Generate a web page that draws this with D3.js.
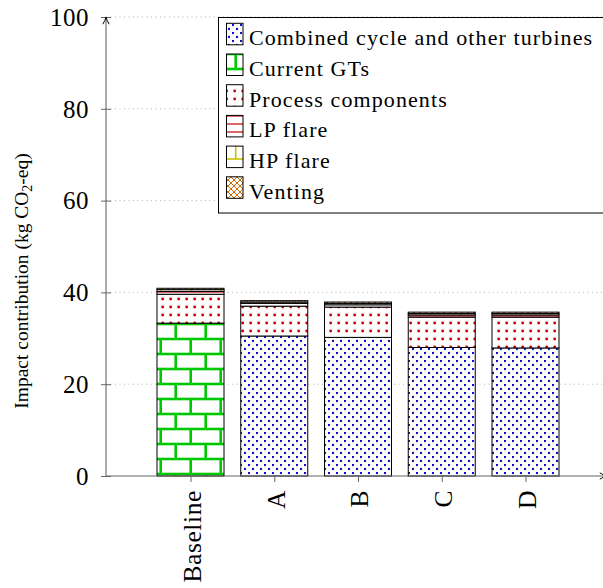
<!DOCTYPE html>
<html><head><meta charset="utf-8">
<script src="https://cdn.jsdelivr.net/npm/d3@7"></script>
<style>body{margin:0;background:#fff} svg{display:block} text{font-family:"Liberation Serif","DejaVu Serif",serif}</style>
</head><body>
<svg id="chart" width="603" height="588"></svg>
<script>
// Emission contributions per scenario (kg CO2-eq)
const categories = ["Baseline", "A", "B", "C", "D"];
const seriesNames = ["Combined cycle and other turbines", "Current GTs", "Process components", "LP flare", "HP flare", "Venting"];
const combinedCycle     = [0.0, 30.5, 30.2, 28.0, 27.9];
const currentGTs        = [33.3, 0.0, 0.0, 0.0, 0.0];
const processComponents = [6.3, 6.5, 6.6, 6.6, 6.7];
const lpFlare           = [0.6, 0.6, 0.5, 0.5, 0.5];
const hpFlare           = [0.4, 0.3, 0.3, 0.3, 0.3];
const venting           = [0.3, 0.3, 0.3, 0.3, 0.3];
const yTicks = [0, 20, 40, 60, 80, 100];
const yLabel = "Impact contribution (kg CO";

const seriesValues = [combinedCycle, currentGTs, processComponents, lpFlare, hpFlare, venting];
const patternIds = ["pCC", "pGT", "pPC", "pLP", "pHP", "pVent"];

const svg = d3.select("#chart");

// ---------- fill patterns ----------
const defs = svg.append("defs");
const blue = "#0000cc", green = "#00c800", red = "#cc0000", yellow = "#c8c000", orange = "#d06a00";

// crosshatch dots (blue)
let p = defs.append("pattern").attr("id", "pCC").attr("patternUnits", "userSpaceOnUse")
  .attr("width", 8).attr("height", 8);
p.append("rect").attr("width", 8).attr("height", 8).attr("fill", "#fff");
[[1, 1], [5, 5]].forEach(([cx, cy]) => p.append("circle").attr("cx", cx).attr("cy", cy).attr("r", 1.15).attr("fill", blue));

// bricks (green / yellow)
function bricks(id, color, w) {
  const b = defs.append("pattern").attr("id", id).attr("patternUnits", "userSpaceOnUse")
    .attr("width", 30).attr("height", 30);
  b.append("rect").attr("width", 30).attr("height", 30).attr("fill", "#fff");
  const g = b.append("g").attr("stroke", color).attr("stroke-width", w).attr("fill", "none");
  g.append("line").attr("x1", -1).attr("x2", 31).attr("y1", 9).attr("y2", 9);
  g.append("line").attr("x1", -1).attr("x2", 31).attr("y1", 24).attr("y2", 24);
  g.append("line").attr("x1", 10.7).attr("x2", 10.7).attr("y1", 9).attr("y2", 24);
  g.append("line").attr("x1", 25.7).attr("x2", 25.7).attr("y1", 24).attr("y2", 31);
  g.append("line").attr("x1", 25.7).attr("x2", 25.7).attr("y1", -1).attr("y2", 9);
}
bricks("pGT", green, 2.6);
bricks("pHP", yellow, 1.6);

// dots (red)
p = defs.append("pattern").attr("id", "pPC").attr("patternUnits", "userSpaceOnUse")
  .attr("width", 8).attr("height", 8);
p.append("rect").attr("width", 8).attr("height", 8).attr("fill", "#fff");
p.append("circle").attr("cx", 2.7).attr("cy", 3).attr("r", 1.45).attr("fill", red);

// horizontal lines (red)
p = defs.append("pattern").attr("id", "pLP").attr("patternUnits", "userSpaceOnUse")
  .attr("width", 8).attr("height", 8);
p.append("rect").attr("width", 8).attr("height", 8).attr("fill", "#fff");
p.append("line").attr("x1", 0).attr("x2", 8).attr("y1", 4).attr("y2", 4).attr("stroke", red).attr("stroke-width", 1.2);

// crosshatch (orange)
p = defs.append("pattern").attr("id", "pVent").attr("patternUnits", "userSpaceOnUse")
  .attr("width", 6).attr("height", 6);
p.append("rect").attr("width", 6).attr("height", 6).attr("fill", "#fff");
p.append("path").attr("d", "M-1,-1L7,7M-1,7L7,-1").attr("stroke", orange).attr("stroke-width", 1);

// ---------- scales ----------
const x = d3.scalePoint().domain(categories).range([190.5, 525.5]);
const barW = x.step() * 0.8;
const y = d3.scaleLinear().domain([0, 100]).range([476, 17]);
const axisX = 106, plotRight = 640;

// grid
svg.append("g").selectAll("line").data(yTicks.filter(t => t > 0)).join("line")
  .attr("x1", axisX).attr("x2", plotRight)
  .attr("y1", d => y(d)).attr("y2", d => y(d))
  .attr("stroke", "#a8a8a8").attr("stroke-width", 0.9).attr("stroke-dasharray", "1,3.5");

// ---------- stacked bars ----------
const rows = categories.map((c, i) => {
  const o = { cat: c };
  seriesNames.forEach((s, k) => o[s] = seriesValues[k][i]);
  return o;
});
const stacked = d3.stack().keys(seriesNames)(rows);
const barsG = svg.append("g");
stacked.forEach((layer, k) => {
  barsG.append("g").selectAll("rect")
    .data(layer.filter(d => d[1] - d[0] > 0))
    .join("rect")
    .attr("x", d => x(d.data.cat) - barW / 2)
    .attr("width", barW)
    .attr("y", d => y(d[1]))
    .attr("height", d => y(d[0]) - y(d[1]))
    .attr("fill", `url(#${patternIds[k]})`)
    .attr("stroke", "#000").attr("stroke-width", 1);
});

// ---------- axes ----------
const axisColor = "#666";
const yAxis = d3.axisLeft(y).tickValues(yTicks).tickSizeInner(5).tickSizeOuter(0).tickPadding(12)
  .tickFormat(d3.format("d"));
const gy = svg.append("g").attr("transform", `translate(${axisX},0)`).call(yAxis);
gy.attr("font-family", null);
gy.select(".domain").remove();
gy.selectAll(".tick line").attr("x2", 5).attr("x1", -5).attr("stroke", axisColor);
gy.selectAll(".tick text").attr("font-size", 25).attr("fill", "#000").attr("dy", "0.33em")
  .attr("letter-spacing", 0.5);

const xAxis = d3.axisBottom(x).tickSizeInner(6).tickSizeOuter(0).tickPadding(8);
const gx = svg.append("g").attr("transform", `translate(0,${y(0)})`).call(xAxis);
gx.attr("font-family", null);
gx.select(".domain").remove();
gx.selectAll(".tick line").attr("stroke", axisColor);
gx.selectAll(".tick text")
  .attr("font-size", 25.5).attr("fill", "#000").attr("letter-spacing", 0.6)
  .attr("text-anchor", "end").attr("y", 0).attr("x", 0)
  .attr("transform", "translate(0,14) rotate(-90)")
  .attr("dominant-baseline", "central").attr("dy", "0.05em");

// axis lines with arrowheads
defs.append("marker").attr("id", "arrow").attr("viewBox", "0 0 10 10")
  .attr("refX", 9).attr("refY", 5).attr("markerWidth", 9).attr("markerHeight", 9)
  .attr("markerUnits", "userSpaceOnUse").attr("orient", "auto")
  .append("path").attr("d", "M1,1.5 Q5,4 9,5 Q5,6 1,8.5").attr("fill", "none").attr("stroke", "#000").attr("stroke-width", 1.1);
svg.append("line").attr("x1", axisX).attr("x2", axisX).attr("y1", y(0)).attr("y2", y(100))
  .attr("stroke", axisColor).attr("stroke-width", 1.1).attr("marker-end", "url(#arrow)");
svg.append("line").attr("x1", axisX).attr("x2", 607).attr("y1", y(0)).attr("y2", y(0))
  .attr("stroke", axisColor).attr("stroke-width", 1.1).attr("marker-end", "url(#arrow)");

// y axis title
const yt = svg.append("text").attr("transform", "translate(28,281) rotate(-90)")
  .attr("text-anchor", "middle").attr("font-size", 19.5).attr("fill", "#000");
yt.append("tspan").text(yLabel);
yt.append("tspan").attr("font-size", 14).attr("dy", 4).text("2");
yt.append("tspan").attr("dy", -4).text("-eq)");

// ---------- legend ----------
const lg = svg.append("g");
lg.append("rect").attr("x", 218.5).attr("y", 17.5).attr("width", 420).attr("height", 195.5)
  .attr("fill", "#fff").attr("stroke", "#000").attr("stroke-width", 1);
seriesNames.forEach((name, k) => {
  const base = 45.3 + k * 30.7;
  lg.append("rect").attr("x", 226.5).attr("y", base - 22).attr("width", 16.5).attr("height", 21.5)
    .attr("fill", `url(#${patternIds[k]})`).attr("stroke", "#000").attr("stroke-width", 1);
  lg.append("text").attr("x", 249).attr("y", base).attr("font-size", 22).attr("letter-spacing", 1.1)
    .attr("fill", "#000").text(name);
});
</script>
</body></html>
